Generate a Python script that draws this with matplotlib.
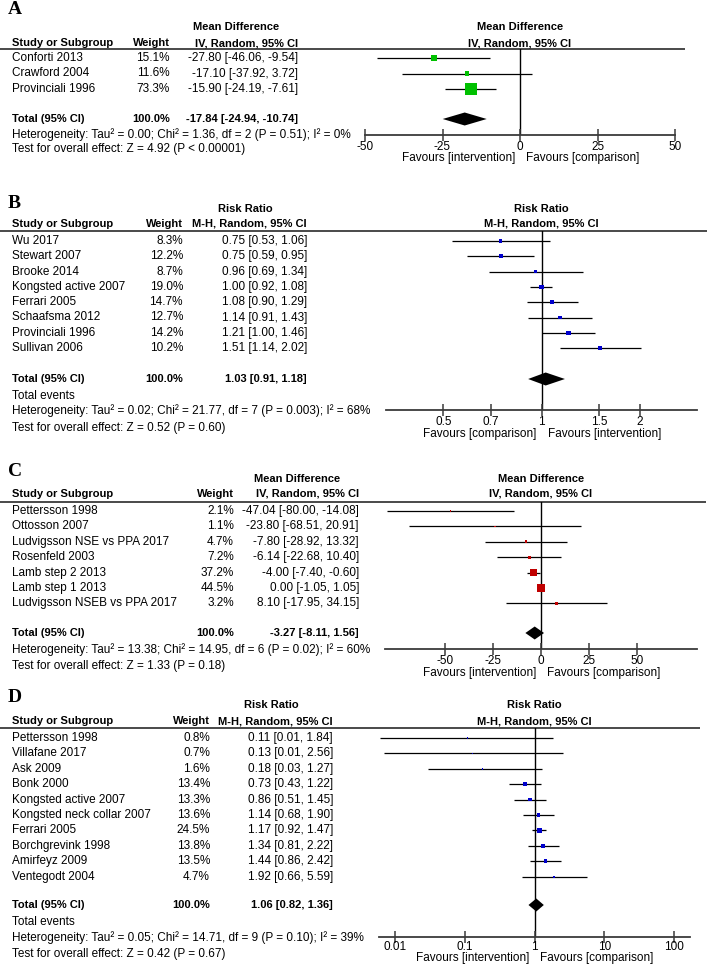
import numpy as np
import matplotlib
matplotlib.use("Agg")
import matplotlib.pyplot as plt

plt.rcParams['font.family'] = ['Liberation Sans', 'DejaVu Sans']

W, H = 708, 968

# ---------------- data ----------------
studies_a = ["Conforti 2013", "Crawford 2004", "Provinciali 1996"]
weights_a = [15.1, 11.6, 73.3]
est_a = [-27.80, -17.10, -15.90]
lo_a = [-46.06, -37.92, -24.19]
hi_a = [-9.54, 3.72, -7.61]
total_a = [-17.84, -24.94, -10.74]
het_a = "Heterogeneity: Tau² = 0.00; Chi² = 1.36, df = 2 (P = 0.51); I² = 0%"
test_a = "Test for overall effect: Z = 4.92 (P < 0.00001)"

studies_b = ["Wu 2017", "Stewart 2007", "Brooke 2014", "Kongsted active 2007",
             "Ferrari 2005", "Schaafsma 2012", "Provinciali 1996", "Sullivan 2006"]
weights_b = [8.3, 12.2, 8.7, 19.0, 14.7, 12.7, 14.2, 10.2]
est_b = [0.75, 0.75, 0.96, 1.00, 1.08, 1.14, 1.21, 1.51]
lo_b = [0.53, 0.59, 0.69, 0.92, 0.90, 0.91, 1.00, 1.14]
hi_b = [1.06, 0.95, 1.34, 1.08, 1.29, 1.43, 1.46, 2.02]
total_b = [1.03, 0.91, 1.18]
het_b = "Heterogeneity: Tau² = 0.02; Chi² = 21.77, df = 7 (P = 0.003); I² = 68%"
test_b = "Test for overall effect: Z = 0.52 (P = 0.60)"

studies_c = ["Pettersson 1998", "Ottosson 2007", "Ludvigsson NSE vs PPA 2017",
             "Rosenfeld 2003", "Lamb step 2 2013", "Lamb step 1 2013",
             "Ludvigsson NSEB vs PPA 2017"]
weights_c = [2.1, 1.1, 4.7, 7.2, 37.2, 44.5, 3.2]
est_c = [-47.04, -23.80, -7.80, -6.14, -4.00, 0.00, 8.10]
lo_c = [-80.00, -68.51, -28.92, -22.68, -7.40, -1.05, -17.95]
hi_c = [-14.08, 20.91, 13.32, 10.40, -0.60, 1.05, 34.15]
total_c = [-3.27, -8.11, 1.56]
het_c = "Heterogeneity: Tau² = 13.38; Chi² = 14.95, df = 6 (P = 0.02); I² = 60%"
test_c = "Test for overall effect: Z = 1.33 (P = 0.18)"

studies_d = ["Pettersson 1998", "Villafane 2017", "Ask 2009", "Bonk 2000",
             "Kongsted active 2007", "Kongsted neck collar 2007", "Ferrari 2005",
             "Borchgrevink 1998", "Amirfeyz 2009", "Ventegodt 2004"]
weights_d = [0.8, 0.7, 1.6, 13.4, 13.3, 13.6, 24.5, 13.8, 13.5, 4.7]
est_d = [0.11, 0.13, 0.18, 0.73, 0.86, 1.14, 1.17, 1.34, 1.44, 1.92]
lo_d = [0.006, 0.007, 0.03, 0.43, 0.51, 0.68, 0.92, 0.81, 0.86, 0.66]
hi_d = [1.84, 2.56, 1.27, 1.22, 1.45, 1.90, 1.47, 2.22, 2.42, 5.59]
total_d = [1.06, 0.82, 1.36]
het_d = "Heterogeneity: Tau² = 0.05; Chi² = 14.71, df = 9 (P = 0.10); I² = 39%"
test_d = "Test for overall effect: Z = 0.42 (P = 0.67)"

ticks_a = [-50, -25, 0, 25, 50]
ticks_b = [0.5, 0.7, 1, 1.5, 2]
ticks_c = [-50, -25, 0, 25, 50]
ticks_d = [0.01, 0.1, 1, 10, 100]
ticklabels_a = ["-50", "-25", "0", "25", "50"]
ticklabels_b = ["0.5", "0.7", "1", "1.5", "2"]
ticklabels_c = ["-50", "-25", "0", "25", "50"]
ticklabels_d = ["0.01", "0.1", "1", "10", "100"]

fav_a = ["Favours [intervention]", "Favours [comparison]"]
fav_b = ["Favours [comparison]", "Favours [intervention]"]
fav_c = ["Favours [intervention]", "Favours [comparison]"]
fav_d = ["Favours [intervention]", "Favours [comparison]"]

# ---------------- drawing ----------------
FS = 8.5
FSB = 8.0
fig = plt.figure(figsize=(W / 100, H / 100), dpi=100)
canvas = fig.add_axes([0, 0, 1, 1])
canvas.set_xlim(0, W)
canvas.set_ylim(H, 0)
canvas.axis('off')


def fmt(e, l, h):
    return f"{e:.2f} [{l:.2f}, {h:.2f}]"


def panel(letter, studies, weights, est, lo, hi, total, het, test, h1, h2, color,
          log, xlim, ticks, ticklabels, fav, L):
    canvas.text(8, L['letter'], letter, fontsize=14, fontweight='bold',
                family='Liberation Serif', va='center', ha='left')
    canvas.text(L['ci'] - 62, L['h1'], h1, fontsize=FSB, fontweight='bold',
                ha='center', va='center')
    canvas.text(12, L['h2'], "Study or Subgroup", fontsize=FSB, fontweight='bold',
                ha='left', va='center')
    canvas.text(L['w'], L['h2'], "Weight", fontsize=FSB, fontweight='bold',
                ha='right', va='center')
    canvas.text(L['ci'], L['h2'], h2, fontsize=FSB, fontweight='bold',
                ha='right', va='center')
    xc = (L['x0'] + L['x1']) / 2
    canvas.text(xc, L['h1'], h1, fontsize=FSB, fontweight='bold', ha='center', va='center')
    canvas.text(xc, L['h2'], h2, fontsize=FSB, fontweight='bold', ha='center', va='center')
    canvas.plot([0, L['lx1']], [L['line'], L['line']], color='#3a3a3a', lw=1.3,
                solid_capstyle='butt')

    rows = [L['row0'] + i * L['dy'] for i in range(len(studies))]
    for y, s, w, e, l, h in zip(rows, studies, weights, est, lo, hi):
        canvas.text(12, y, s, fontsize=FS, ha='left', va='center')
        canvas.text(L['w'], y, f"{w:.1f}%", fontsize=FS, ha='right', va='center')
        canvas.text(L['ci'], y, fmt(e, l, h), fontsize=FS, ha='right', va='center')
    canvas.text(12, L['total'], "Total (95% CI)", fontsize=FSB, fontweight='bold',
                ha='left', va='center')
    canvas.text(L['w'], L['total'], "100.0%", fontsize=FSB, fontweight='bold',
                ha='right', va='center')
    canvas.text(L['ci'], L['total'], fmt(*total), fontsize=FSB, fontweight='bold',
                ha='right', va='center')
    if L.get('events') is not None:
        canvas.text(12, L['events'], "Total events", fontsize=FS, ha='left', va='center')
    canvas.text(12, L['het'], het, fontsize=FS, ha='left', va='center')
    canvas.text(12, L['test'], test, fontsize=FS, ha='left', va='center')

    ax = fig.add_axes([L['x0'] / W, 1 - L['axis'] / H, (L['x1'] - L['x0']) / W,
                       (L['axis'] - L['line']) / H])
    ax.set_facecolor('none')
    if log:
        ax.set_xscale('log')
    ax.set_xlim(*xlim)
    ax.set_ylim(L['axis'], L['line'])
    for sp in ['left', 'right', 'top']:
        ax.spines[sp].set_visible(False)
    ax.spines['bottom'].set_color('#3a3a3a')
    ax.spines['bottom'].set_linewidth(1.3)
    ax.set_yticks([])
    ax.set_xticks(ticks)
    ax.set_xticklabels(ticklabels, fontsize=FS)
    ax.minorticks_off()
    ax.tick_params(axis='x', direction='inout', length=8, width=1.1, color='#3a3a3a',
                   pad=L['pad'])
    ref = 1 if log else 0
    ax.axvline(ref, color='black', lw=1.0, zorder=1)
    ax.hlines(rows, lo, hi, color='black', lw=0.9, zorder=2)
    sizes = [(max(L['mc'] * np.sqrt(w), 1.4) * 0.72) ** 2 for w in weights]
    ax.scatter(est, rows, marker='s', s=sizes, color=color, linewidths=0, zorder=3)
    e, l, h = total
    hh = 6.5
    ax.fill([l, e, h, e], [L['total'], L['total'] - hh, L['total'], L['total'] + hh],
            color='black', zorder=3, lw=0)
    yfig = 1 - L['fav'] / H
    ax.annotate(fav[0], xy=(ref, yfig), xycoords=('data', 'figure fraction'),
                xytext=(-5, 0), textcoords='offset pixels', ha='right', va='center',
                fontsize=FS, annotation_clip=False)
    ax.annotate(fav[1], xy=(ref, yfig), xycoords=('data', 'figure fraction'),
                xytext=(6, 0), textcoords='offset pixels', ha='left', va='center',
                fontsize=FS, annotation_clip=False)
    return ax


LA = dict(letter=10, h1=27, h2=43, line=49, lx1=685, row0=58, dy=15.5, total=119,
          events=None, het=135, test=149, axis=135, fav=158, x0=365, x1=675,
          w=170, ci=298, mc=1.4, pad=0.5)
LB = dict(letter=203, h1=209, h2=224, line=231, lx1=707, row0=241, dy=15.3, total=379,
          events=396, het=411, test=428, axis=410, fav=434, x0=386, x1=697,
          w=183, ci=307, mc=1.08, pad=0.5)
LC = dict(letter=472, h1=479, h2=494, line=502, lx1=706, row0=511, dy=15.4, total=633,
          events=None, het=650, test=666, axis=649, fav=673, x0=385, x1=697,
          w=234, ci=359, mc=1.24, pad=0.5)
LD = dict(letter=697, h1=705, h2=721, line=728, lx1=700, row0=738, dy=15.4, total=905,
          events=922, het=938, test=954, axis=937, fav=958, x0=379, x1=690,
          w=210, ci=333, mc=1.01, pad=-1.0)

panel("A", studies_a, weights_a, est_a, lo_a, hi_a, total_a, het_a, test_a,
      "Mean Difference", "IV, Random, 95% CI", '#00c000', False, (-50, 50),
      ticks_a, ticklabels_a, fav_a, LA)
panel("B", studies_b, weights_b, est_b, lo_b, hi_b, total_b, het_b, test_b,
      "Risk Ratio", "M-H, Random, 95% CI", '#0000cc', True, (1 / 3, 3),
      ticks_b, ticklabels_b, fav_b, LB)
panel("C", studies_c, weights_c, est_c, lo_c, hi_c, total_c, het_c, test_c,
      "Mean Difference", "IV, Random, 95% CI", '#c00000', False, (-81, 81),
      ticks_c, ticklabels_c, fav_c, LC)
panel("D", studies_d, weights_d, est_d, lo_d, hi_d, total_d, het_d, test_d,
      "Risk Ratio", "M-H, Random, 95% CI", '#0000cc', True, (10 ** -2.23, 10 ** 2.23),
      ticks_d, ticklabels_d, fav_d, LD)

fig.savefig("out.png", dpi=100)
